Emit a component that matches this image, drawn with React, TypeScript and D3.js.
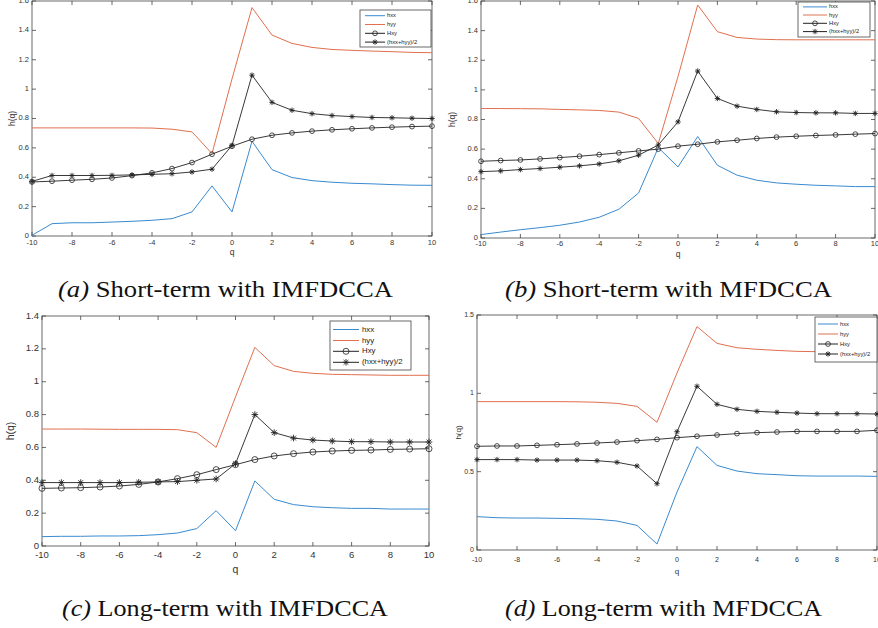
import React from 'react';
import * as d3 from 'd3';

// q values (shared x categories)
const qValues = [-10, -9, -8, -7, -6, -5, -4, -3, -2, -1, 0, 1, 2, 3, 4, 5, 6, 7, 8, 9, 10];

// (a) Short-term with IMFDCCA
const hxxA = [0.005, 0.084, 0.09, 0.09, 0.095, 0.1, 0.107, 0.118, 0.164, 0.341, 0.164, 0.645, 0.452, 0.398, 0.377, 0.366, 0.359, 0.355, 0.35, 0.346, 0.345];
const hyyA = [0.736, 0.736, 0.736, 0.736, 0.736, 0.736, 0.735, 0.727, 0.709, 0.561, 1.07, 1.555, 1.368, 1.311, 1.284, 1.27, 1.264, 1.259, 1.255, 1.25, 1.248];
const HxyA = [0.368, 0.373, 0.38, 0.386, 0.395, 0.411, 0.43, 0.459, 0.5, 0.557, 0.611, 0.659, 0.686, 0.702, 0.714, 0.723, 0.73, 0.736, 0.741, 0.745, 0.748];
const avgA = [0.372, 0.412, 0.412, 0.412, 0.413, 0.416, 0.42, 0.424, 0.436, 0.455, 0.617, 1.095, 0.91, 0.856, 0.833, 0.82, 0.813, 0.807, 0.805, 0.802, 0.8];

// (b) Short-term with MFDCCA
const hxxB = [0.023, 0.04, 0.056, 0.07, 0.086, 0.108, 0.14, 0.194, 0.304, 0.61, 0.48, 0.685, 0.491, 0.424, 0.39, 0.372, 0.363, 0.356, 0.352, 0.347, 0.347];
const hyyB = [0.874, 0.874, 0.873, 0.872, 0.868, 0.865, 0.861, 0.85, 0.807, 0.638, 1.09, 1.573, 1.393, 1.354, 1.343, 1.339, 1.338, 1.338, 1.338, 1.338, 1.338];
const HxyB = [0.518, 0.523, 0.527, 0.534, 0.543, 0.552, 0.563, 0.575, 0.588, 0.6, 0.62, 0.633, 0.649, 0.66, 0.672, 0.681, 0.687, 0.692, 0.696, 0.701, 0.705];
const avgB = [0.448, 0.453, 0.462, 0.469, 0.478, 0.487, 0.5, 0.521, 0.559, 0.628, 0.784, 1.127, 0.942, 0.89, 0.868, 0.852, 0.847, 0.845, 0.845, 0.841, 0.841];

// (c) Long-term with IMFDCCA
const hxxC = [0.057, 0.059, 0.059, 0.061, 0.061, 0.063, 0.069, 0.079, 0.106, 0.215, 0.093, 0.396, 0.284, 0.252, 0.239, 0.233, 0.229, 0.229, 0.225, 0.225, 0.225];
const hyyC = [0.712, 0.712, 0.712, 0.711, 0.71, 0.71, 0.71, 0.708, 0.69, 0.6, 0.907, 1.209, 1.098, 1.063, 1.051, 1.045, 1.043, 1.041, 1.039, 1.039, 1.039];
const HxyC = [0.351, 0.353, 0.355, 0.359, 0.365, 0.375, 0.39, 0.41, 0.434, 0.465, 0.495, 0.526, 0.548, 0.562, 0.572, 0.578, 0.582, 0.584, 0.588, 0.59, 0.592];
const avgC = [0.386, 0.386, 0.386, 0.386, 0.386, 0.388, 0.39, 0.392, 0.4, 0.408, 0.501, 0.8, 0.69, 0.657, 0.645, 0.639, 0.635, 0.635, 0.633, 0.633, 0.633];

// (d) Long-term with MFDCCA
const hxxD = [0.213, 0.206, 0.204, 0.204, 0.202, 0.2, 0.196, 0.185, 0.157, 0.038, 0.37, 0.66, 0.54, 0.504, 0.487, 0.481, 0.474, 0.472, 0.472, 0.472, 0.47];
const hyyD = [0.947, 0.947, 0.947, 0.947, 0.947, 0.946, 0.943, 0.936, 0.917, 0.815, 1.13, 1.426, 1.319, 1.291, 1.281, 1.274, 1.268, 1.266, 1.264, 1.264, 1.262];
const HxyD = [0.662, 0.664, 0.664, 0.668, 0.672, 0.677, 0.683, 0.689, 0.698, 0.706, 0.717, 0.726, 0.734, 0.743, 0.749, 0.753, 0.757, 0.757, 0.757, 0.757, 0.764];
const avgD = [0.577, 0.577, 0.577, 0.574, 0.574, 0.574, 0.57, 0.56, 0.536, 0.423, 0.755, 1.045, 0.93, 0.898, 0.885, 0.879, 0.874, 0.87, 0.87, 0.87, 0.868];

const xTicks = [-10, -8, -6, -4, -2, 0, 2, 4, 6, 8, 10];
const yTicksAB = [0, 0.2, 0.4, 0.6, 0.8, 1, 1.2, 1.4, 1.6];
const yTicksC = [0, 0.2, 0.4, 0.6, 0.8, 1, 1.2, 1.4];
const yTicksD = [0, 0.5, 1, 1.5];
const legendLabels = ['hxx', 'hyy', 'Hxy', '(hxx+hyy)/2'];

const BLUE = '#3a8ad0';
const ORANGE = '#e07050';
const DARK = '#222';
const AXIS = '#444';

type Cfg = {
  left: number; right: number; top: number; bottom: number;
  yMax: number; yTicks: number[];
  tickFont: number; labelFont: number; tickLabelY: number; xLabelY: number;
  yLabelX: number; markerR: number;
  legend: { x: number; y: number; w: number; h: number; rows: number[]; lx1: number; lx2: number; tx: number; font: number };
};

function Star({ x, y, r, color }: { x: number; y: number; r: number; color: string }) {
  const d = r * 0.72;
  return (
    <g stroke={color} strokeWidth={0.9}>
      <line x1={x - r} y1={y} x2={x + r} y2={y} />
      <line x1={x} y1={y - r} x2={x} y2={y + r} />
      <line x1={x - d} y1={y - d} x2={x + d} y2={y + d} />
      <line x1={x - d} y1={y + d} x2={x + d} y2={y - d} />
    </g>
  );
}

function Panel({ cfg, hxx, hyy, hxy, avg }: { cfg: Cfg; hxx: number[]; hyy: number[]; hxy: number[]; avg: number[] }) {
  const x = d3.scaleLinear().domain([-10, 10]).range([cfg.left, cfg.right]);
  const y = d3.scaleLinear().domain([0, cfg.yMax]).range([cfg.bottom, cfg.top]);
  const line = d3.line<number>().x((_, i) => x(qValues[i])).y((v) => y(v));
  const tl = 4;
  const L = cfg.legend;
  const fmt = (v: number) => (Math.round(v * 10) / 10).toString();
  return (
    <g fontFamily="'Liberation Sans', Arial, sans-serif">
      <rect x={cfg.left} y={cfg.top} width={cfg.right - cfg.left} height={cfg.bottom - cfg.top} fill="#fff" stroke={AXIS} strokeWidth={0.8} />
      {xTicks.map((t) => (
        <g key={'xt' + t}>
          <line x1={x(t)} x2={x(t)} y1={cfg.bottom} y2={cfg.bottom - tl} stroke={AXIS} strokeWidth={0.8} />
          <line x1={x(t)} x2={x(t)} y1={cfg.top} y2={cfg.top + tl} stroke={AXIS} strokeWidth={0.8} />
          <text x={x(t)} y={cfg.tickLabelY} fontSize={cfg.tickFont} fill="#333" textAnchor="middle" dominantBaseline="middle">{t}</text>
        </g>
      ))}
      {cfg.yTicks.map((t) => (
        <g key={'yt' + t}>
          <line x1={cfg.left} x2={cfg.left + tl} y1={y(t)} y2={y(t)} stroke={AXIS} strokeWidth={0.8} />
          <line x1={cfg.right} x2={cfg.right - tl} y1={y(t)} y2={y(t)} stroke={AXIS} strokeWidth={0.8} />
          <text x={cfg.left - 3} y={y(t)} fontSize={cfg.tickFont} fill="#333" textAnchor="end" dominantBaseline="middle">{fmt(t)}</text>
        </g>
      ))}
      <text x={(cfg.left + cfg.right) / 2} y={cfg.xLabelY} fontSize={cfg.labelFont} fill="#333" textAnchor="middle" dominantBaseline="middle">q</text>
      <text transform={`translate(${cfg.yLabelX},${(cfg.top + cfg.bottom) / 2}) rotate(-90)`} fontSize={cfg.labelFont} fill="#333" textAnchor="middle" dominantBaseline="middle">h(q)</text>

      <path d={line(hxx) || ''} fill="none" stroke={BLUE} strokeWidth={1} />
      <path d={line(hyy) || ''} fill="none" stroke={ORANGE} strokeWidth={1} />
      <path d={line(hxy) || ''} fill="none" stroke={DARK} strokeWidth={0.9} />
      {hxy.map((v, i) => (
        <circle key={'c' + i} cx={x(qValues[i])} cy={y(v)} r={cfg.markerR} fill="none" stroke={DARK} strokeWidth={0.8} />
      ))}
      <path d={line(avg) || ''} fill="none" stroke={DARK} strokeWidth={0.9} />
      {avg.map((v, i) => (
        <Star key={'s' + i} x={x(qValues[i])} y={y(v)} r={cfg.markerR + 0.3} color={DARK} />
      ))}

      <rect x={L.x} y={L.y} width={L.w} height={L.h} fill="#fff" stroke={AXIS} strokeWidth={0.8} />
      {legendLabels.map((lab, i) => {
        const ry = L.rows[i];
        const color = i === 0 ? BLUE : i === 1 ? ORANGE : DARK;
        const mx = (L.lx1 + L.lx2) / 2;
        return (
          <g key={'lg' + i}>
            <line x1={L.lx1} x2={L.lx2} y1={ry} y2={ry} stroke={color} strokeWidth={1} />
            {i === 2 && <circle cx={mx} cy={ry} r={cfg.markerR} fill="none" stroke={DARK} strokeWidth={0.8} />}
            {i === 3 && <Star x={mx} y={ry} r={cfg.markerR + 0.3} color={DARK} />}
            <text x={L.tx} y={ry} fontSize={L.font} fill="#222" dominantBaseline="middle">{lab}</text>
          </g>
        );
      })}
    </g>
  );
}

const cfgA: Cfg = {
  left: 32, right: 432, top: 1, bottom: 236, yMax: 1.6, yTicks: yTicksAB,
  tickFont: 7.5, labelFont: 8.5, tickLabelY: 243, xLabelY: 253, yLabelX: 13, markerR: 2.4,
  legend: { x: 360, y: 10, w: 71, h: 37, rows: [15.7, 24.5, 33.3, 42.1], lx1: 365, lx2: 385, tx: 387, font: 5.8 },
};
const cfgB: Cfg = {
  left: 481, right: 875, top: 1, bottom: 238, yMax: 1.6, yTicks: yTicksAB,
  tickFont: 7.5, labelFont: 8.5, tickLabelY: 244, xLabelY: 255, yLabelX: 453, markerR: 2.4,
  legend: { x: 798, y: 2, w: 72, h: 35, rows: [6.9, 15, 23.3, 31.6], lx1: 803, lx2: 827, tx: 829, font: 5.8 },
};
const cfgC: Cfg = {
  left: 42, right: 429, top: 316, bottom: 546, yMax: 1.4, yTicks: yTicksC,
  tickFont: 9.5, labelFont: 10.5, tickLabelY: 555, xLabelY: 570, yLabelX: 11, markerR: 3,
  legend: { x: 330, y: 321, w: 81, h: 49, rows: [329.5, 340.5, 351.3, 362.3], lx1: 333, lx2: 359, tx: 362, font: 7.8 },
};
const cfgD: Cfg = {
  left: 477, right: 877, top: 315, bottom: 550, yMax: 1.5, yTicks: yTicksD,
  tickFont: 7, labelFont: 8, tickLabelY: 560, xLabelY: 572, yLabelX: 459, markerR: 2.4,
  legend: { x: 815, y: 317, w: 62, h: 45, rows: [324, 334, 344, 354], lx1: 818, lx2: 838, tx: 840, font: 5.8 },
};

function Caption({ x, y, w, tag, text }: { x: number; y: number; w: number; tag: string; text: string }) {
  return (
    <text x={x} y={y} fontFamily="'Liberation Serif', 'Times New Roman', serif" fontSize={23} fill="#111" textLength={w} lengthAdjust="spacingAndGlyphs">
      <tspan fontStyle="italic">{tag}</tspan>
      {' ' + text}
    </text>
  );
}

export default function App() {
  return (
    <svg width={878} height={628} style={{ position: 'absolute', left: 0, top: 0, background: '#fff' }}>
      <rect width={878} height={628} fill="#fff" />
      <Panel cfg={cfgA} hxx={hxxA} hyy={hyyA} hxy={HxyA} avg={avgA} />
      <Panel cfg={cfgB} hxx={hxxB} hyy={hyyB} hxy={HxyB} avg={avgB} />
      <Panel cfg={cfgC} hxx={hxxC} hyy={hyyC} hxy={HxyC} avg={avgC} />
      <Panel cfg={cfgD} hxx={hxxD} hyy={hyyD} hxy={HxyD} avg={avgD} />
      <Caption x={58} y={297} w={335} tag="(a)" text="Short-term with IMFDCCA" />
      <Caption x={505} y={297} w={327} tag="(b)" text="Short-term with MFDCCA" />
      <Caption x={62} y={616} w={326} tag="(c)" text="Long-term with IMFDCCA" />
      <Caption x={505} y={616} w={317} tag="(d)" text="Long-term with MFDCCA" />
    </svg>
  );
}
